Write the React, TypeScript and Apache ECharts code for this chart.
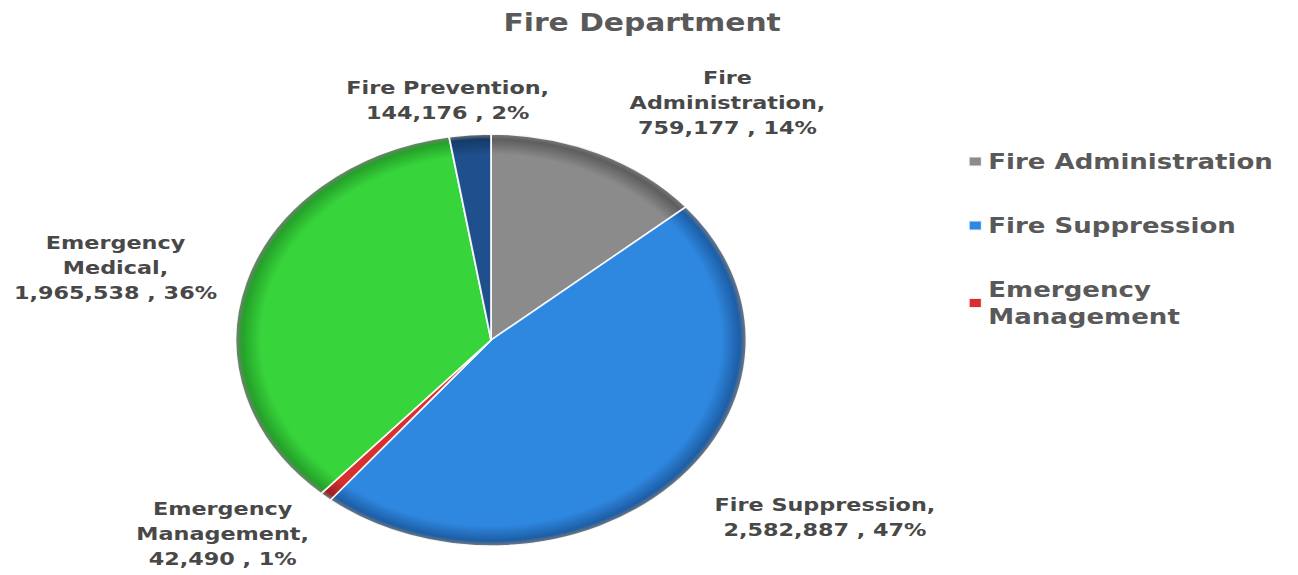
import React, { useEffect, useRef } from "react";
import * as echarts from "echarts";

// Budget by division (dollars)
const CATEGORIES = [
  "Fire Administration",
  "Fire Suppression",
  "Emergency Management",
  "Emergency Medical",
  "Fire Prevention",
];
const VALUES = [759177, 2582887, 42490, 1965538, 144176];
const LEGEND_ITEMS = ["Fire Administration", "Fire Suppression", "Emergency Management"];

// Slice fill and darker rim tone
const BASE_COLORS = ["#8b8b8b", "#2f88e0", "#d83030", "#37d43c", "#1f4f8c"];
const RIM_COLORS = ["#5e5e5e", "#1d5ea6", "#9c1f1f", "#25a12a", "#143a68"];

// The drawing is laid out in a narrower frame and stretched horizontally
const STRETCH = 1.24;
const FRAME_W = 1298 / STRETCH;
const FRAME_H = 575;

const CX = 396;
const CY = 340;
const R = 206;

// Label placement relative to the rim point at each slice's mid-angle
const LABEL_OFFSET: [number, number][] = [
  [104, -50],
  [122, 33],
  [-83, 37],
  [-105, -15],
  [-18, -34],
];

const FONT = "DejaVu Sans";

const wrapName = (name: string, maxLen: number) =>
  name.length > maxLen ? name.replace(" ", "\n") : name;

export default function App() {
  const ref = useRef<HTMLDivElement>(null);

  useEffect(() => {
    if (!ref.current) return;
    const chart = echarts.init(ref.current, null, { renderer: "svg" });

    const total = VALUES.reduce((a, b) => a + b, 0);
    const midAngles: number[] = [];
    let acc = 0;
    VALUES.forEach((v) => {
      midAngles.push(((acc + v / 2) / total) * Math.PI * 2);
      acc += v;
    });

    const data = CATEGORIES.map((name, i) => ({
      name,
      value: VALUES[i],
      itemStyle: {
        color: {
          type: "radial",
          x: CX,
          y: CY,
          r: R,
          global: true,
          colorStops: [
            { offset: 0, color: BASE_COLORS[i] },
            { offset: 0.9, color: BASE_COLORS[i] },
            { offset: 0.975, color: RIM_COLORS[i] },
            { offset: 1, color: "#7a7a7a" },
          ],
        },
      },
    }));

    chart.setOption({
      animation: false,
      backgroundColor: "#ffffff",
      title: {
        text: "Fire Department",
        left: 401,
        top: 6,
        textStyle: {
          fontFamily: FONT,
          fontWeight: "bold",
          fontSize: 24,
          color: "#595959",
        },
      },
      legend: {
        orient: "vertical",
        left: 775,
        top: 143,
        itemGap: 37,
        itemWidth: 11,
        itemHeight: 10,
        icon: "rect",
        data: LEGEND_ITEMS.map((name) => ({
          name,
          itemStyle: { color: BASE_COLORS[CATEGORIES.indexOf(name)] },
        })),
        formatter: (name: string) => wrapName(name, 19),
        textStyle: {
          fontFamily: FONT,
          fontWeight: "bold",
          fontSize: 21,
          lineHeight: 27,
          color: "#595959",
        },
      },
      series: [
        {
          type: "pie",
          center: [CX, CY],
          radius: R,
          startAngle: 90,
          clockwise: true,
          percentPrecision: 0,
          avoidLabelOverlap: false,
          itemStyle: {
            borderColor: "rgba(255,255,255,0.9)",
            borderWidth: 1.5,
          },
          label: {
            show: true,
            position: "outside",
            fontFamily: FONT,
            fontWeight: "bold",
            fontSize: 18,
            lineHeight: 25,
            color: "#484848",
            formatter: (p: any) =>
              `${wrapName(p.name, 16)},\n${Number(p.value).toLocaleString("en-US")} , ${p.percent}%`,
          },
          labelLine: { show: false },
          labelLayout: (p: any) => {
            const i = p.dataIndex;
            const a = midAngles[i];
            const ex = CX + R * Math.sin(a);
            const ey = CY - R * Math.cos(a);
            return {
              x: ex + LABEL_OFFSET[i][0],
              y: ey + LABEL_OFFSET[i][1],
              align: "center",
              verticalAlign: "middle",
            };
          },
          emphasis: { disabled: true },
          data,
        },
      ],
    });

    return () => chart.dispose();
  }, []);

  return (
    <div
      ref={ref}
      style={{
        position: "absolute",
        left: 0,
        top: 0,
        width: FRAME_W,
        height: FRAME_H,
        transform: `scaleX(${STRETCH})`,
        transformOrigin: "0 0",
      }}
    />
  );
}
